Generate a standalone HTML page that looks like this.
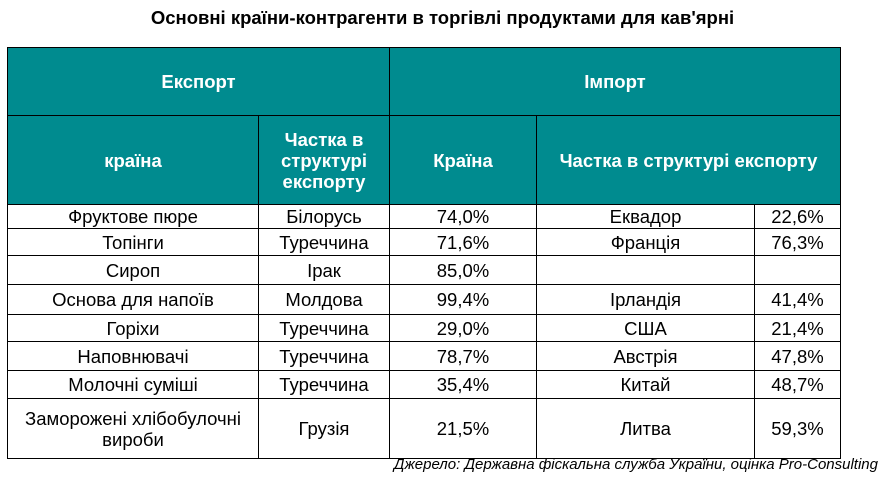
<!DOCTYPE html>
<html><head><meta charset="utf-8"><style>
body{margin:0;width:885px;height:483px;background:#fff;position:relative;font-family:"Liberation Sans",Arial,sans-serif;overflow:hidden}
.c{position:absolute;box-sizing:border-box;border:1px solid #000;display:flex;align-items:center;justify-content:center;text-align:center;font-size:18.5px;color:#000;line-height:21px}
.h{background:#008b8f;color:#fff;font-weight:bold}
#title{position:absolute;top:7px;left:0;width:885px;text-align:center;font-weight:bold;font-size:18.5px}
#src{position:absolute;top:456px;right:7px;font-style:italic;font-size:15px}
</style></head><body>
<div id="title">Основні країни-контрагенти в торгівлі продуктами для кав'ярні</div>
<div id="tbl"></div>
<div id="src">Джерело: Державна фіскальна служба України, оцінка Pro-Consulting</div>
<script>
const X=[7,258,389,536,754,840];
const Y=[47,115,204,228,255,284,314,341,370,398,458];
const products=["Фруктове пюре","Топінги","Сироп","Основа для напоїв","Горіхи","Наповнювачі","Молочні суміші","Заморожені хлібобулочні вироби"];
const exportCountries=["Білорусь","Туреччина","Ірак","Молдова","Туреччина","Туреччина","Туреччина","Грузія"];
const exportShares=["74,0%","71,6%","85,0%","99,4%","29,0%","78,7%","35,4%","21,5%"];
const importCountries=["Еквадор","Франція","","Ірландія","США","Австрія","Китай","Литва"];
const importShares=["22,6%","76,3%","","41,4%","21,4%","47,8%","48,7%","59,3%"];
const t=document.getElementById('tbl');
function cell(c0,c1,r0,r1,txt,h,name){
  const d=document.createElement('div');
  
  
  d.className='c'+(h?' h':'');
  d.style.left=X[c0]+'px';d.style.width=(X[c1]-X[c0]+1)+'px';
  d.style.top=Y[r0]+'px';d.style.height=(Y[r1]-Y[r0]+1)+'px';
  d.innerHTML=txt;t.appendChild(d);
}
cell(0,2,0,1,'Експорт',1,'export-header');
cell(2,5,0,1,'Імпорт',1,'import-header');
cell(0,1,1,2,'країна',1,'country-header');
cell(1,2,1,2,'Частка в<br>структурі<br>експорту',1,'export-share-header');
cell(2,3,1,2,'Країна',1,'import-country-header');
cell(3,5,1,2,'Частка в структурі експорту',1,'import-share-header');
for(let i=0;i<products.length;i++){
  cell(0,1,i+2,i+3,products[i],0,'product-cell');
  cell(1,2,i+2,i+3,exportCountries[i],0,'export-country-cell');
  cell(2,3,i+2,i+3,exportShares[i],0,'export-share-cell');
  cell(3,4,i+2,i+3,importCountries[i],0,'import-country-cell');
  cell(4,5,i+2,i+3,importShares[i],0,'import-share-cell');
}
</script>
</body></html>
